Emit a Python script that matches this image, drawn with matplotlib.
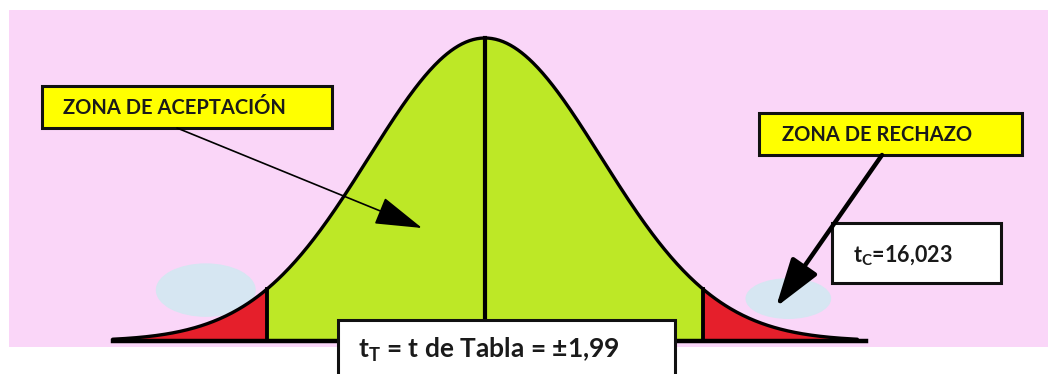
import matplotlib.pyplot as plt
import numpy as np
from matplotlib.patches import Ellipse, FancyArrowPatch, Rectangle

# values shown on the diagram
T_CRIT = 1.99
T_CALC = 16.023
ACCEPT_LABEL = "ZONA DE ACEPTACIÓN"
REJECT_LABEL = "ZONA DE RECHAZO"

# bell shape (t units) and where the tails end
CURVE_SD = 1.06
TAIL_END = 3.4
BASE_END = (-3.4, 3.48)

W, H = 1048, 374
PINK = "#fad6f8"
GREEN = "#bde826"
RED = "#e51f2b"
YELLOW = "#ffff00"
BLUE = "#d6e6f2"
INK = "#1a1a1a"

plt.rcParams["font.family"] = ["Lato", "DejaVu Sans"]
plt.rcParams["mathtext.fontset"] = "custom"
plt.rcParams["mathtext.rm"] = "Lato:bold"
plt.rcParams["mathtext.it"] = "Lato:bold"


def fxy(px, py):
    return px / W, 1 - py / H


def fbox(fig, px0, py0, px1, py1, color):
    x0, y1 = fxy(px0, py0)
    x1, y0 = fxy(px1, py1)
    fig.add_artist(Rectangle((x0, y0), x1 - x0, y1 - y0, transform=fig.transFigure,
                             facecolor=color, edgecolor="#111111", linewidth=2.2, zorder=5))


def comma(v, nd):
    return f"{v:.{nd}f}".replace(".", ",")


def main():
    fig = plt.figure(figsize=(W / 100, H / 100), dpi=100)
    ax = fig.add_axes([9 / W, (H - 347) / H, (W - 9) / W, 337 / H])
    ax.set_facecolor(PINK)
    ax.set_xlim((9 - 485) / 109.5, (W - 485) / 109.5)
    ax.set_ylim(-6 / 303, 331 / 303)
    ax.axis("off")
    ax.add_patch(Rectangle((0, 0), 1, 1, transform=ax.transAxes, color=PINK, zorder=0))

    x = np.linspace(-TAIL_END, TAIL_END, 600)
    y = np.exp(-0.5 * (x / CURVE_SD) ** 2)

    # pale blue blobs behind the tails
    ax.add_patch(Ellipse((-2.55, 0.168), 0.9, 0.172, color=BLUE, zorder=1))
    ax.add_patch(Ellipse((2.77, 0.14), 0.77, 0.13, color=BLUE, zorder=1))

    mid = np.abs(x) <= T_CRIT
    ax.fill_between(x, 0, y, where=mid, color=GREEN, zorder=2, linewidth=0)
    ax.fill_between(x, 0, y, where=x <= -T_CRIT, color=RED, zorder=2, linewidth=0)
    ax.fill_between(x, 0, y, where=x >= T_CRIT, color=RED, zorder=2, linewidth=0)

    ax.plot(x, y, color="black", linewidth=2.4, zorder=3, solid_capstyle="round")
    ax.plot(BASE_END, [0, 0], color="black", linewidth=3.2, zorder=3)
    yc = np.exp(-0.5 * (T_CRIT / CURVE_SD) ** 2)
    for xc in (-T_CRIT, T_CRIT):
        ax.plot([xc, xc], [0, yc], color="black", linewidth=2.8, zorder=3)
    ax.plot([0, 0], [0, 1], color="black", linewidth=3.0, zorder=3)

    # label boxes
    fbox(fig, 42, 86, 332, 128, YELLOW)
    fig.text(*fxy(63, 108), ACCEPT_LABEL, fontsize=14.5, fontweight="bold",
             color=INK, va="center", ha="left", zorder=6)
    fbox(fig, 759, 113, 1022, 155, YELLOW)
    fig.text(*fxy(782, 135), REJECT_LABEL, fontsize=14.5, fontweight="bold",
             color=INK, va="center", ha="left", zorder=6)
    fbox(fig, 832, 223, 1001, 283, "white")
    fig.text(*fxy(853, 256), r"$\mathrm{t_C}$=" + comma(T_CALC, 3), fontsize=15.5,
             fontweight="bold", color=INK, va="center", ha="left", zorder=6)
    fbox(fig, 338, 320, 675, 380, "white")
    fig.text(*fxy(358, 358), r"$\mathrm{t_T}$ = t de Tabla = ±" + comma(T_CRIT, 2),
             fontsize=19, fontweight="bold", color=INK, va="baseline", ha="left", zorder=6)

    # arrows
    a1 = FancyArrowPatch(fxy(177, 128), fxy(422, 228), transform=fig.transFigure,
                         arrowstyle="-|>,head_length=1.0,head_width=0.3", mutation_scale=30,
                         color="black", linewidth=1.2, shrinkA=0, shrinkB=0, zorder=6)
    a2 = FancyArrowPatch(fxy(882, 155), fxy(776, 307), transform=fig.transFigure,
                         arrowstyle="-|>,head_length=1.0,head_width=0.32", mutation_scale=30,
                         color="black", linewidth=3.2, shrinkA=0, shrinkB=0, zorder=6)
    fig.add_artist(a1)
    fig.add_artist(a2)

    fig.savefig("out.png", dpi=100, facecolor="white")
    plt.close(fig)


if __name__ == "__main__":
    main()
